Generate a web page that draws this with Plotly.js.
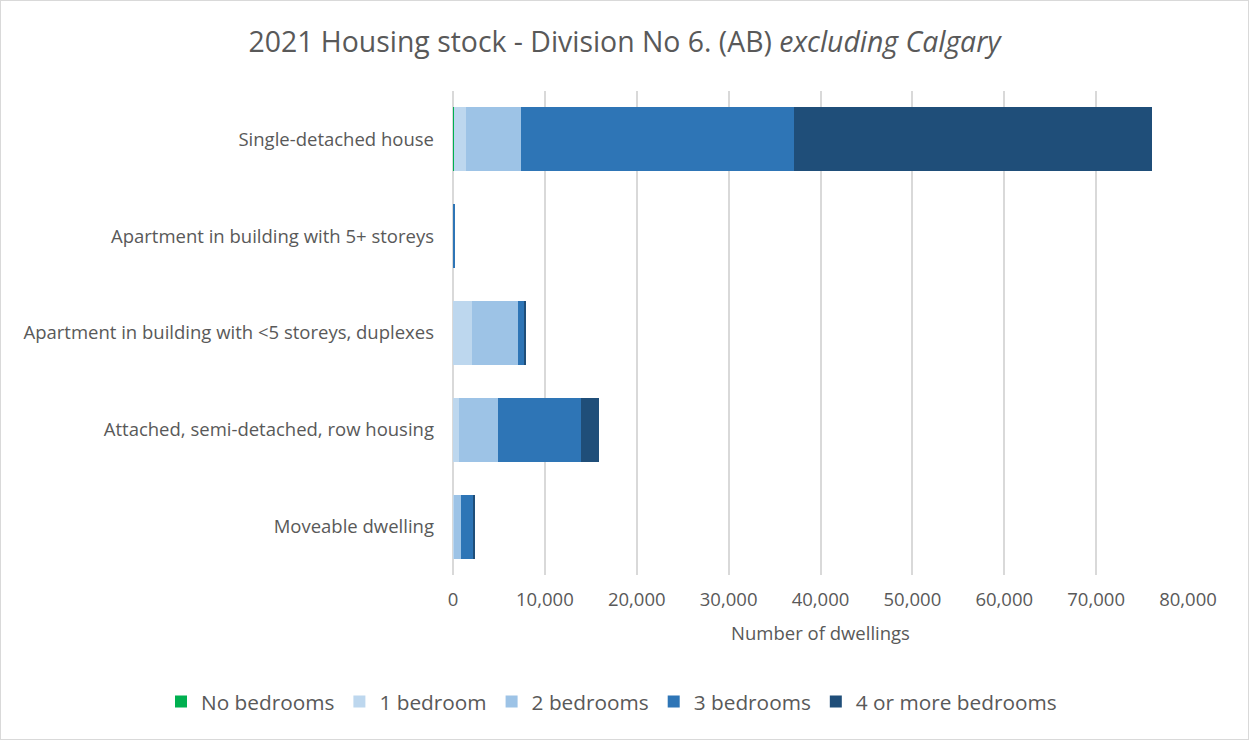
<!DOCTYPE html>
<html>
<head>
<meta charset="utf-8">
<script src="https://cdn.plot.ly/plotly-3.0.1.min.js"></script>
<style>
  html, body { margin: 0; padding: 0; background: #fff; }
  #chart { width: 1247px; height: 738px; border: 1px solid #d9d9d9; }
</style>
</head>
<body>
<div id="chart"></div>
<script>
const categories = [
  "Single-detached house",
  "Apartment in building with 5+ storeys",
  "Apartment in building with <5 storeys, duplexes",
  "Attached, semi-detached, row housing",
  "Moveable dwelling"
];
const seriesNames = ["No bedrooms", "1 bedroom", "2 bedrooms", "3 bedrooms", "4 or more bedrooms"];
const noBedrooms   = [100, 10, 50, 30, 10];
const oneBedroom   = [1300, 50, 2000, 650, 50];
const twoBedrooms  = [6000, 40, 5000, 4250, 820];
const threeBedrooms= [29700, 10, 750, 9000, 1400];
const fourPlus     = [38950, 0, 130, 2000, 100];
const colors = ["#00B050", "#BDD7EE", "#9DC3E6", "#2E75B6", "#1F4E79"];
const allValues = [noBedrooms, oneBedroom, twoBedrooms, threeBedrooms, fourPlus];

const traces = allValues.map((vals, i) => ({
  type: "bar",
  orientation: "h",
  name: seriesNames[i],
  y: categories,
  x: vals,
  marker: { color: colors[i], line: { width: 0 } },
  hoverinfo: "x+name"
}));

const plotH = 738 - 90 - 164;

const layout = {
  width: 1247,
  height: 738,
  barmode: "stack",
  bargap: 0.34,
  paper_bgcolor: "#ffffff",
  plot_bgcolor: "#ffffff",
  margin: { l: 452, r: 60, t: 90, b: 164 },
  font: { family: "Open Sans, Liberation Sans, sans-serif", color: "#595959" },
  title: {
    text: "2021 Housing stock - Division No 6. (AB) <i>excluding Calgary</i>",
    font: { size: 28.4, color: "#595959" },
    x: 0.5, xanchor: "center",
    y: 0.945, yanchor: "middle"
  },
  xaxis: {
    range: [0, 80000],
    dtick: 10000,
    tickformat: ",",
    showgrid: true,
    gridcolor: "#d9d9d9",
    gridwidth: 2,
    zeroline: true,
    zerolinecolor: "#d9d9d9",
    zerolinewidth: 2,
    showline: false,
    ticks: "",
    ticklabelstandoff: 11,
    tickfont: { size: 18.5, color: "#595959" },
    title: { text: "Number of dwellings", font: { size: 18.5, color: "#595959" }, standoff: 17 },
    fixedrange: true
  },
  yaxis: {
    type: "category",
    categoryorder: "array",
    categoryarray: categories,
    autorange: "reversed",
    showgrid: false,
    zeroline: false,
    showline: false,
    ticks: "",
    ticklabelstandoff: 18,
    tickfont: { size: 18.5, color: "#595959" },
    fixedrange: true
  },
  legend: {
    orientation: "h",
    x: (160 - 452) / 735, xanchor: "left",
    y: -(701 - 574) / plotH, yanchor: "middle",
    font: { size: 20.8, color: "#595959" },
    traceorder: "normal"
  },
  showlegend: true
};

Plotly.newPlot("chart", traces, layout, { displayModeBar: false });
</script>
</body>
</html>
